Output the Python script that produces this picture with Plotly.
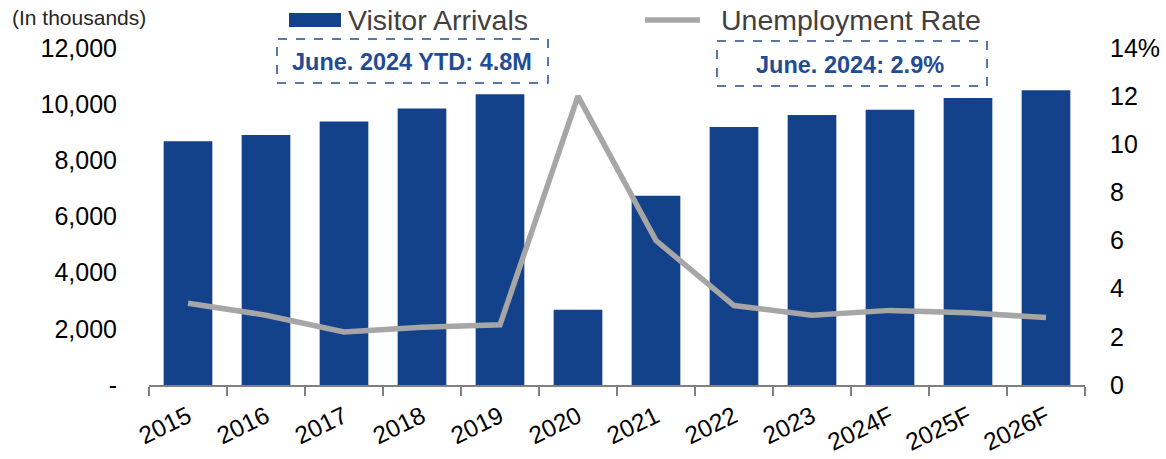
import plotly.graph_objects as go

# ---- data ----
years = ["2015", "2016", "2017", "2018", "2019", "2020", "2021", "2022", "2023", "2024F", "2025F", "2026F"]
visitor_arrivals = [8680, 8900, 9380, 9850, 10350, 2680, 6740, 9190, 9610, 9800, 10220, 10500]
unemployment_rate = [3.4, 2.9, 2.2, 2.4, 2.5, 12.0, 6.0, 3.3, 2.9, 3.1, 3.0, 2.8]
left_ticks = [0, 2000, 4000, 6000, 8000, 10000, 12000]
left_ticktext = ["-", "2,000", "4,000", "6,000", "8,000", "10,000", "12,000"]
right_ticks = [0, 2, 4, 6, 8, 10, 12, 14]
right_ticktext = ["0", "2", "4", "6", "8", "10", "12", "14%"]

BLUE = "#13418A"
GRAY = "#A6A6A6"
ANN = "#1F4C95"
FONT = "Liberation Sans, Arial, sans-serif"

W, H = 1166, 459
L, R, T, B = 149, 81, 48, 74
PW, PH = W - L - R, H - T - B


def px(x):
    return (x - L) / PW


def py(y):
    return (H - B - y) / PH


fig = go.Figure()
fig.add_trace(go.Bar(x=years, y=visitor_arrivals, marker=dict(color=BLUE, line=dict(width=0)),
                     name="Visitor Arrivals", showlegend=False))
fig.add_trace(go.Scatter(x=years, y=unemployment_rate, mode="lines", yaxis="y2",
                         line=dict(color=GRAY, width=5.5), name="Unemployment Rate", showlegend=False))

shapes = [
    # legend markers
    dict(type="rect", xref="paper", yref="paper", x0=px(289), x1=px(341), y0=py(27), y1=py(13),
         fillcolor=BLUE, line=dict(width=0)),
    dict(type="line", xref="paper", yref="paper", x0=px(645), x1=px(700), y0=py(20), y1=py(20),
         line=dict(color=GRAY, width=5.5)),
    # annotation boxes
    dict(type="rect", xref="paper", yref="paper", x0=px(277), x1=px(548), y0=py(83), y1=py(39),
         line=dict(color=ANN, width=1.5, dash="dash"), fillcolor="white"),
    dict(type="rect", xref="paper", yref="paper", x0=px(717), x1=px(987), y0=py(86), y1=py(41),
         line=dict(color=ANN, width=1.5, dash="dash"), fillcolor="white"),
]

annotations = [
    dict(text="Visitor Arrivals", xref="paper", yref="paper", x=px(346), y=py(20), xanchor="left",
         yanchor="middle", showarrow=False, font=dict(family=FONT, size=28.5, color="#404040")),
    dict(text="Unemployment Rate", xref="paper", yref="paper", x=px(719), y=py(20), xanchor="left",
         yanchor="middle", showarrow=False, font=dict(family=FONT, size=28.5, color="#404040")),
    dict(text="<b>June. 2024 YTD: 4.8M</b>", xref="paper", yref="paper", x=px(412), y=py(62),
         xanchor="center", yanchor="middle", showarrow=False, font=dict(family=FONT, size=23.5, color=ANN)),
    dict(text="<b>June. 2024: 2.9%</b>", xref="paper", yref="paper", x=px(850), y=py(65),
         xanchor="center", yanchor="middle", showarrow=False, font=dict(family=FONT, size=23.5, color=ANN)),
    dict(text="(In thousands)", xref="paper", yref="paper", x=px(10), y=py(17), xanchor="left",
         yanchor="middle", showarrow=False, font=dict(family=FONT, size=21, color="#262626")),
]

fig.update_layout(
    width=W, height=H,
    margin=dict(l=L, r=R, t=T, b=B, pad=0),
    paper_bgcolor="white", plot_bgcolor="white",
    font=dict(family=FONT, size=25, color="black"),
    bargap=0.376,
    showlegend=False,
    shapes=shapes,
    annotations=annotations,
    xaxis=dict(type="category", showgrid=False, showline=True, linecolor="#808080", linewidth=1.5,
               ticks="outside", tickson="boundaries", ticklen=9, tickcolor="#808080", tickwidth=1.5,
               tickangle=-26, ticklabelstandoff=6, automargin=False,
               tickfont=dict(family=FONT, size=24.5, color="black")),
    yaxis=dict(range=[0, 12000], tickvals=left_ticks, ticktext=left_ticktext, showgrid=False,
               showline=False, zeroline=False, ticks="", ticklabelstandoff=31, automargin=False,
               tickfont=dict(family=FONT, size=25, color="black")),
    yaxis2=dict(range=[0, 14], tickvals=right_ticks, ticktext=right_ticktext, overlaying="y",
                side="right", showgrid=False, showline=False, zeroline=False, ticks="",
                ticklabelstandoff=24, automargin=False,
                tickfont=dict(family=FONT, size=25, color="black")),
)

fig.write_html("out.html", config={"displayModeBar": False},
               post_script="document.body.style.margin='0';document.body.style.overflow='hidden';")
